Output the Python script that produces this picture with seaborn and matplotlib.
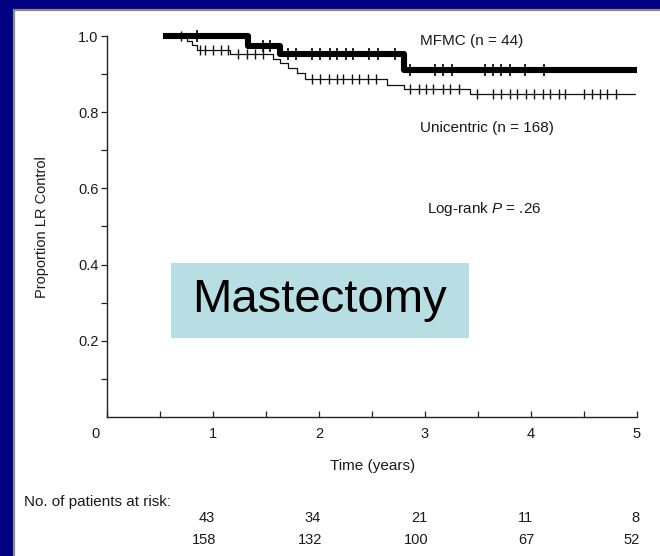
import numpy as np
import pandas as pd
import matplotlib
matplotlib.use("Agg")
import matplotlib.pyplot as plt
import seaborn as sns
from matplotlib.patches import Rectangle
from matplotlib.transforms import ScaledTranslation, blended_transform_factory

# ---------------- data ----------------
mfmc_times = [0.53, 1.33, 1.63, 2.80]
mfmc_surv = [1.000, 0.975, 0.953, 0.911]
mfmc_end = 5.0
mfmc_censor = [0.85, 1.47, 1.54, 1.71, 1.78, 1.93, 2.01, 2.10, 2.17, 2.25, 2.32,
               2.47, 2.56, 2.72, 2.86, 3.09, 3.17, 3.25, 3.57, 3.64, 3.72, 3.80,
               3.94, 4.12]

uni_times = [0.53, 0.75, 0.80, 0.85, 1.16, 1.57, 1.63, 1.71, 1.79, 1.87, 2.64, 2.80, 3.42]
uni_surv = [1.000, 0.986, 0.976, 0.964, 0.954, 0.939, 0.928, 0.915, 0.902, 0.886,
            0.872, 0.862, 0.849]
uni_end = 4.98
uni_censor = [0.70, 0.88, 0.92, 1.00, 1.08, 1.14, 1.24, 1.32, 1.40, 1.47,
              1.93, 2.01, 2.09, 2.17, 2.23, 2.31, 2.38, 2.46, 2.54,
              2.86, 2.94, 3.01, 3.08, 3.17, 3.24, 3.32,
              3.49, 3.64, 3.72, 3.80, 3.87, 3.95, 4.03, 4.11, 4.18, 4.26, 4.32,
              4.50, 4.58, 4.65, 4.72, 4.80]

risk_times = [1, 2, 3, 4, 5]
risk_mfmc = [43, 34, 21, 11, 8]
risk_uni = [158, 132, 100, 67, 52]

x_tick_labels = ["0", "1", "2", "3", "4", "5"]
y_tick_values = [0.2, 0.4, 0.6, 0.8, 1.0]
y_tick_labels = ["0.2", "0.4", "0.6", "0.8", "1.0"]

# ---------------- style ----------------
sns.set_style("ticks")
plt.rcParams["font.family"] = ["Liberation Sans", "DejaVu Sans"]
plt.rcParams["mathtext.fontset"] = "custom"
plt.rcParams["mathtext.it"] = "Liberation Sans:italic"
plt.rcParams["mathtext.rm"] = "Liberation Sans"

TXT = "#1a1a1a"
W, H = 660, 556
fig = plt.figure(figsize=(W / 100, H / 100), dpi=100, facecolor="#000080")

# white panel with grey frame
fig.patches.append(Rectangle((13.5 / W, -0.01), 1.0, 1 - 10 / H + 0.01,
                             transform=fig.transFigure, facecolor="white",
                             edgecolor="#8a8a8a", linewidth=1.6, zorder=-5))

ax = fig.add_axes([107 / W, 1 - 417 / H, 530 / W, 381 / H])
ax.set_facecolor("none")
ax.set_zorder(1)


def step_frame(times, surv, end):
    return pd.DataFrame({"t": list(times) + [end], "s": list(surv) + [surv[-1]]})


def surv_at(times, surv, ts):
    idx = np.searchsorted(np.asarray(times), np.asarray(ts), side="right") - 1
    return np.asarray(surv)[idx]


uni_df = step_frame(uni_times, uni_surv, uni_end)
mfmc_df = step_frame(mfmc_times, mfmc_surv, mfmc_end)

sns.lineplot(data=uni_df, x="t", y="s", drawstyle="steps-post", color="#111111",
             linewidth=0.9, ax=ax, zorder=3, clip_on=False)
sns.scatterplot(x=uni_censor, y=surv_at(uni_times, uni_surv, uni_censor), marker="|",
                s=55, linewidth=1.0, color="#111111", ax=ax, zorder=3, clip_on=False)

sns.lineplot(data=mfmc_df, x="t", y="s", drawstyle="steps-post", color="black",
             linewidth=4.4, ax=ax, zorder=4, solid_capstyle="butt", clip_on=False)
sns.scatterplot(x=mfmc_censor, y=surv_at(mfmc_times, mfmc_surv, mfmc_censor), marker="|",
                s=85, linewidth=1.2, color="black", ax=ax, zorder=5, clip_on=False)

ax.set_xlim(0, 5)
ax.set_ylim(0, 1)
ax.set_xlabel("")
ax.set_ylabel("")

for side in ["top", "right"]:
    ax.spines[side].set_visible(False)
for side in ["left", "bottom"]:
    ax.spines[side].set_color("#222222")
    ax.spines[side].set_linewidth(1.0)

ax.set_xticks(range(0, 6))
ax.set_xticklabels(x_tick_labels)
ax.set_xticks(np.arange(0.5, 5, 1.0), minor=True)
ax.tick_params(axis="x", which="both", direction="in", length=4, width=0.9,
               colors="#222222", labelsize=10.5, pad=7, labelcolor=TXT)
lbl0 = ax.get_xticklabels()[0]
lbl0.set_transform(lbl0.get_transform() + ScaledTranslation(-0.12, 0, fig.dpi_scale_trans))

ax.set_yticks(y_tick_values)
ax.set_yticklabels(y_tick_labels)
ax.set_yticks(np.arange(0.1, 1.0, 0.2), minor=True)
ax.tick_params(axis="y", which="both", direction="out", length=4, width=0.9,
               colors="#222222", labelsize=10.5, pad=2, labelcolor=TXT)

# labels
fig.text(42 / W, 1 - 227 / H, "Proportion LR Control", rotation=90, ha="center",
         va="center", fontsize=10.5, color=TXT)
fig.text(373 / W, 1 - 466 / H, "Time (years)", ha="center", va="center",
         fontsize=11, color=TXT)

fig.text(420 / W, 1 - 40.5 / H, "MFMC (n = 44)", ha="left", va="center",
         fontsize=11, color=TXT)
fig.text(420 / W, 1 - 128 / H, "Unicentric (n = 168)", ha="left", va="center",
         fontsize=11, color=TXT)
fig.text(427 / W, 1 - 209 / H, r"Log-rank $\mathit{P}$ = .26", ha="left", va="center",
         fontsize=11, color=TXT)

# Mastectomy box
fig.patches.append(Rectangle((171 / W, 1 - 338 / H), 298 / W, 75 / H,
                             transform=fig.transFigure, facecolor="#b7dfe3",
                             edgecolor="none", zorder=6))
fig.text(320 / W, 1 - 300 / H, "Mastectomy", ha="center", va="center",
         fontsize=34, color="black", zorder=7)

# at-risk table
fig.text(24 / W, 1 - 502 / H, "No. of patients at risk:", ha="left", va="center",
         fontsize=11, color=TXT)
tr = blended_transform_factory(ax.transData, fig.transFigure)
for t, a, b in zip(risk_times, risk_mfmc, risk_uni):
    ax.text(t + 0.02, 1 - 518 / H, str(a), transform=tr, ha="right", va="center",
            fontsize=10.5, color=TXT, clip_on=False)
    ax.text(t + 0.03, 1 - 540 / H, str(b), transform=tr, ha="right", va="center",
            fontsize=10.5, color=TXT, clip_on=False)

fig.savefig("out.png", dpi=100, facecolor=fig.get_facecolor())
